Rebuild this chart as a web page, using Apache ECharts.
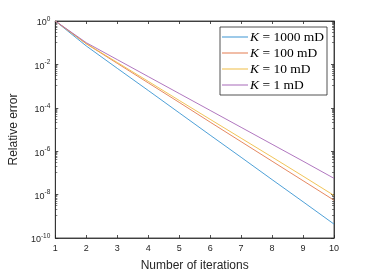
<!DOCTYPE html>
<html><head><meta charset="utf-8">
<script src="https://cdn.jsdelivr.net/npm/echarts@6/dist/echarts.min.js"></script>
<style>html,body{margin:0;padding:0;background:#fff}#c{width:369px;height:277px}</style>
</head><body><div id="c"></div>
<script>
const iterations = [1, 2, 3, 4, 5, 6, 7, 8, 9, 10];
const seriesNames = ['K = 1000 mD', 'K = 100 mD', 'K = 10 mD', 'K = 1 mD'];
const k1000 = [1, 7.08e-2, 6.61e-3, 6.31e-4, 5.89e-5, 5.50e-6, 5.25e-7, 4.90e-8, 4.68e-9, 4.37e-10];
const k100 = [1, 8.91e-2, 1.12e-2, 1.41e-3, 1.78e-4, 2.19e-5, 2.75e-6, 3.47e-7, 4.37e-8, 5.50e-9];
const k10 = [1, 9.12e-2, 1.23e-2, 1.66e-3, 2.19e-4, 2.95e-5, 3.98e-6, 5.37e-7, 7.08e-8, 9.12e-9];
const k1 = [1, 1.0e-1, 1.66e-2, 2.75e-3, 4.57e-4, 7.59e-5, 1.26e-5, 2.09e-6, 3.47e-7, 5.62e-8];
const xTicks = ['1','2','3','4','5','6','7','8','9','10'];
const yTickExponents = [0, -2, -4, -6, -8, -10];

const colors = ['#3a95d3', '#e27a4f', '#efbd45', '#a768b8'];
const dataSets = [k1000, k100, k10, k1];
const axisColor = '#262626';

const chart = echarts.init(document.getElementById('c'), null, {renderer: 'canvas'});
const yLabelFmt = v => {
  const e = Math.round(Math.log10(v));
  return '{b|10}{s|' + (e === 0 ? '0' : e) + '}';
};
const yRich = {
  b: {fontSize: 9, color: axisColor, fontFamily: 'Liberation Sans', padding: [4, 0, 0, 0]},
  s: {fontSize: 6.5, color: axisColor, fontFamily: 'Liberation Sans', padding: [0, 0, 4, 0]}
};
chart.setOption({
  animation: false,
  color: colors,
  grid: {left: 48, right: 35, top: 21, bottom: 32, show: true, borderColor: axisColor, borderWidth: 0.8, backgroundColor: '#fff'},
  legend: {
    right: 42, top: 27, orient: 'vertical',
    data: seriesNames.map(n => ({name: n, icon: 'rect'})),
    itemWidth: 26, itemHeight: 1, itemGap: 2,
    backgroundColor: '#fff', borderColor: axisColor, borderWidth: 0.8, borderRadius: 0,
    padding: [3, 3, 3, 2],
    formatter: n => '{k|K} = ' + n.replace('K = ', ''),
    textStyle: {
      fontFamily: 'Liberation Serif', fontSize: 13.5, color: '#000', padding: [0, 0, 0, -3], lineHeight: 13,
      rich: {
        k: {fontFamily: 'Liberation Serif', fontStyle: 'italic', fontSize: 13.5, color: '#000'}
      }
    }
  },
  xAxis: [{
    type: 'value', min: 1, max: 10, interval: 1,
    name: 'Number of iterations', nameLocation: 'middle', nameGap: 22,
    nameTextStyle: {fontFamily: 'Liberation Sans', fontSize: 12, color: axisColor},
    axisLine: {lineStyle: {color: axisColor, width: 0.8}},
    axisTick: {inside: true, length: 3, lineStyle: {color: axisColor, width: 0.8}},
    axisLabel: {fontSize: 9, color: axisColor, fontFamily: 'Liberation Sans', margin: 6,
      formatter: v => xTicks[Math.round(v) - 1]},
    splitLine: {show: false}
  }, {
    type: 'value', min: 1, max: 10, interval: 1, position: 'top',
    axisLine: {lineStyle: {color: axisColor, width: 0.8}},
    axisTick: {inside: true, length: 3, lineStyle: {color: axisColor, width: 0.8}},
    axisLabel: {show: false}, splitLine: {show: false}
  }],
  yAxis: [{
    type: 'log', min: 1e-10, max: 1, interval: 2, logBase: 10,
    name: 'Relative error', nameLocation: 'middle', nameGap: 29,
    nameTextStyle: {fontFamily: 'Liberation Sans', fontSize: 12, color: axisColor},
    axisLine: {show: true, lineStyle: {color: axisColor, width: 0.8}},
    axisTick: {inside: true, length: 3, lineStyle: {color: axisColor, width: 0.8}},
    minorTick: {show: true, splitNumber: 10, length: 2, lineStyle: {color: axisColor, width: 0.6}},
    axisLabel: {formatter: yLabelFmt, rich: yRich, margin: 5},
    splitLine: {show: false}
  }, {
    type: 'log', min: 1e-10, max: 1, interval: 2, logBase: 10, position: 'right',
    axisLine: {show: true, lineStyle: {color: axisColor, width: 0.8}},
    axisTick: {inside: true, length: 3, lineStyle: {color: axisColor, width: 0.8}},
    minorTick: {show: true, splitNumber: 10, length: 2, lineStyle: {color: axisColor, width: 0.6}},
    axisLabel: {show: false}, splitLine: {show: false}
  }],
  series: dataSets.map((d, i) => ({
    name: seriesNames[i], type: 'line', symbol: 'none',
    data: iterations.map((x, j) => [x, d[j]]),
    lineStyle: {width: 0.9, color: colors[i]}
  }))
});
</script></body></html>
